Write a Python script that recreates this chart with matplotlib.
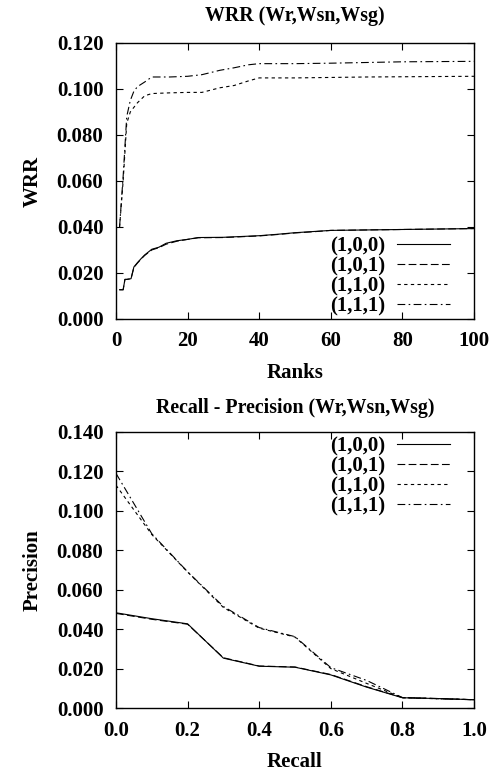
import matplotlib
matplotlib.use('Agg')
import matplotlib.pyplot as plt

plt.rcParams['font.family'] = ['Liberation Serif', 'DejaVu Serif']
plt.rcParams['font.weight'] = 'bold'
plt.rcParams['axes.labelweight'] = 'bold'
plt.rcParams['axes.titleweight'] = 'bold'
plt.rcParams['font.size'] = 15

# WRR vs ranks
ranks_low = [1, 2, 2.5, 3, 4.2, 5, 6, 7, 8, 10, 12, 14, 17, 20, 23, 30, 40, 45, 50, 55, 60, 70, 80, 90, 100]
wrr_100 = [0.0127, 0.0127, 0.0172, 0.0172, 0.0175, 0.0226, 0.0245, 0.0262, 0.0278, 0.0303, 0.0312,
           0.0329, 0.0340, 0.0346, 0.0354, 0.0355, 0.0362, 0.0368, 0.0375, 0.0380, 0.0385, 0.0387,
           0.0389, 0.0391, 0.0393]
wrr_101 = [0.0127, 0.0127, 0.0172, 0.0172, 0.0175, 0.0224, 0.0243, 0.0260, 0.0276, 0.0300, 0.0310,
           0.0325, 0.0338, 0.0346, 0.0353, 0.0354, 0.0361, 0.0367, 0.0374, 0.0379, 0.0385, 0.0387,
           0.0389, 0.0391, 0.0393]
ranks_high = [1, 2, 3, 4, 5, 6, 8, 10, 15, 20, 24, 29, 33, 37, 40, 50, 60, 70, 80, 90, 100]
wrr_110 = [0.040, 0.060, 0.085, 0.090, 0.092, 0.094, 0.097, 0.098, 0.0983, 0.0985, 0.0985, 0.1005,
           0.1015, 0.1035, 0.1048, 0.1048, 0.1050, 0.1052, 0.1053, 0.1054, 0.1055]
wrr_111 = [0.040, 0.062, 0.088, 0.095, 0.099, 0.101, 0.103, 0.1052, 0.1052, 0.1055, 0.1062, 0.1081,
           0.1092, 0.1105, 0.1110, 0.1110, 0.1112, 0.1115, 0.1118, 0.1119, 0.1120]

# Recall - precision
recall = [0.0, 0.1, 0.2, 0.3, 0.4, 0.5, 0.6, 0.7, 0.8, 0.9, 1.0]
prec_100 = [0.0483, 0.0453, 0.0427, 0.0253, 0.0212, 0.0207, 0.0168, 0.0106, 0.0052, 0.0048, 0.0042]
prec_101 = [0.0480, 0.0450, 0.0425, 0.0255, 0.0213, 0.0208, 0.0170, 0.0108, 0.0053, 0.0048, 0.0042]
prec_110 = [0.1130, 0.0880, 0.0690, 0.0510, 0.0405, 0.0360, 0.0200, 0.0125, 0.0052, 0.0047, 0.0042]
prec_111 = [0.1190, 0.0884, 0.0691, 0.0515, 0.0408, 0.0362, 0.0205, 0.0140, 0.0053, 0.0047, 0.0042]

labels = ['(1,0,0)', '(1,0,1)', '(1,1,0)', '(1,1,1)']
styles = ['-', (0, (7, 3)), (0, (3, 3)), (0, (7, 3, 1.5, 3))]

fig = plt.figure(figsize=(4.9, 7.71), dpi=100)
ax1 = fig.add_axes([0.2367, 0.5863, 0.7306, 0.358])
ax2 = fig.add_axes([0.2367, 0.0817, 0.7306, 0.358])

leg_kw = dict(frameon=False, markerfirst=False, labelspacing=0.0, handlelength=2.55,
              borderaxespad=0.0, borderpad=0.0, handletextpad=0.58, fontsize=15)

top = [(ranks_low, wrr_100), (ranks_low, wrr_101), (ranks_high, wrr_110), (ranks_high, wrr_111)]
for (x, y), lab, ls in zip(top, labels, styles):
    ax1.plot(x, y, color='black', lw=0.8, linestyle=ls, label=lab)
ax1.set_xlim(0, 100)
ax1.set_ylim(0, 0.12)
ax1.set_xticks([0, 20, 40, 60, 80, 100])
ax1.set_yticks([0, 0.02, 0.04, 0.06, 0.08, 0.10, 0.12])
ax1.set_yticklabels(['0.000', '0.020', '0.040', '0.060', '0.080', '0.100', '0.120'])
ax1.set_xlabel('Ranks', labelpad=8)
ax1.set_ylabel('WRR', labelpad=10)
ax1.set_title('WRR (Wr,Wsn,Wsg)', fontsize=14.3, pad=16)
ax1.legend(loc='lower right', bbox_to_anchor=(0.933, 0.01), **leg_kw)

for y, lab, ls in zip([prec_100, prec_101, prec_110, prec_111], labels, styles):
    ax2.plot(recall, y, color='black', lw=0.8, linestyle=ls, label=lab)
ax2.set_xlim(0, 1)
ax2.set_ylim(0, 0.14)
ax2.set_xticks([0, 0.2, 0.4, 0.6, 0.8, 1.0])
ax2.set_xticklabels(['0.0', '0.2', '0.4', '0.6', '0.8', '1.0'])
ax2.set_yticks([0, 0.02, 0.04, 0.06, 0.08, 0.10, 0.12, 0.14])
ax2.set_yticklabels(['0.000', '0.020', '0.040', '0.060', '0.080', '0.100', '0.120', '0.140'])
ax2.set_xlabel('Recall', labelpad=8)
ax2.set_ylabel('Precision', labelpad=10)
ax2.set_title('Recall - Precision (Wr,Wsn,Wsg)', fontsize=14.3, pad=14)
ax2.legend(loc='upper right', bbox_to_anchor=(0.933, 0.985), **leg_kw)

for ax in (ax1, ax2):
    ax.tick_params(direction='in', top=True, right=True, length=5, width=0.8, pad=9)
    for s in ax.spines.values():
        s.set_linewidth(1.0)

fig.savefig('out.png', dpi=100)
